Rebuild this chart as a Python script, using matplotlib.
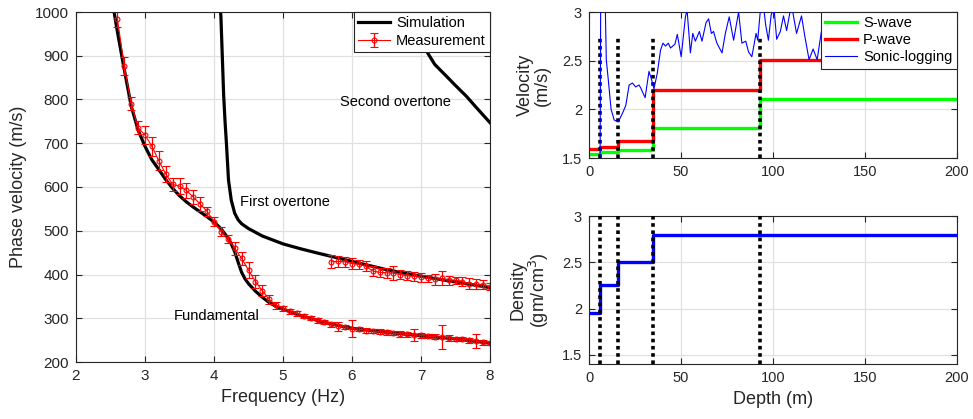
import matplotlib
matplotlib.use("Agg")
import matplotlib.pyplot as plt
from matplotlib.lines import Line2D

plt.rcParams['font.family'] = ['Liberation Sans', 'DejaVu Sans']

# ---------------- data: dispersion curves ----------------
sim_fund_f = [2.53, 2.6, 2.7, 2.8, 2.9, 3.0, 3.1, 3.2, 3.3, 3.4, 3.5, 3.6, 3.7, 3.8, 3.9, 4.0,
              4.1, 4.2, 4.25, 4.3, 4.35, 4.4, 4.45, 4.5, 4.6, 4.7, 4.8, 4.9, 5.0, 5.25, 5.5,
              5.75, 6.0, 6.5, 7.0, 7.5, 8.0]
sim_fund_v = [1020, 955, 868, 785, 730, 693, 662, 640, 617, 597, 580, 566, 554, 543, 532, 520,
              505, 484, 470, 452, 428, 405, 390, 379, 362, 348, 336, 327, 321, 306, 295,
              285, 277, 268, 260, 253, 243]

sim_o1_f = [4.08, 4.10, 4.12, 4.14, 4.16, 4.18, 4.21, 4.25, 4.3, 4.35, 4.4, 4.5, 4.7, 5.0,
            5.25, 5.5, 6.0, 6.5, 7.0, 7.5, 8.0]
sim_o1_v = [1030, 990, 900, 810, 750, 700, 616, 570, 540, 525, 516, 505, 488, 470,
            459, 449, 430, 411, 396, 383, 370]

sim_o2_f = [6.85, 6.95, 7.09, 7.2, 7.37, 7.5, 7.66, 7.8, 8.0]
sim_o2_v = [1010, 960, 908, 880, 853, 832, 807, 782, 747]

meas_fund_f = [2.6, 2.7, 2.8, 2.9, 3.0, 3.1, 3.2, 3.3, 3.4, 3.5, 3.6, 3.7, 3.8, 3.9, 4.0,
               4.1, 4.2, 4.3, 4.4, 4.5, 4.6, 4.7, 4.8, 4.9, 5.0, 5.1, 5.2, 5.3, 5.4, 5.5,
               5.6, 5.7, 5.8, 5.9, 6.0, 6.1, 6.2, 6.3, 6.4, 6.5, 6.6, 6.7, 6.8, 6.9, 7.0,
               7.1, 7.2, 7.3, 7.4, 7.5, 7.6, 7.7, 7.8, 7.9, 8.0]
meas_fund_v = [984, 876, 790, 735, 719, 693, 660, 630, 606, 602, 592, 577, 561, 544, 521,
               498, 481, 460, 437, 410, 384, 363, 343, 330, 323, 316, 311, 305, 300, 295,
               291, 286, 282, 280, 276, 275, 272, 271, 269, 268, 266, 264, 263, 262, 261,
               259, 258, 257, 255, 253, 252, 250, 248, 245, 243]
meas_fund_e = [19, 21, 15, 15, 20, 22, 22, 18, 15, 18, 18, 15, 15, 10, 10,
               10, 10, 15, 15, 18, 15, 12, 10, 8, 6, 6, 5, 5, 5, 5,
               5, 5, 10, 5, 19, 5, 5, 5, 6, 6, 5, 6, 5, 14, 5,
               5, 6, 27, 6, 5, 5, 6, 15, 5, 5]

meas_o1_f = [5.7, 5.8, 5.9, 6.0, 6.1, 6.2, 6.3, 6.4, 6.5, 6.6, 6.7, 6.8, 6.9, 7.0, 7.1,
             7.2, 7.3, 7.4, 7.5, 7.6, 7.7, 7.8, 7.9, 8.0]
meas_o1_v = [429, 430, 429, 425, 423, 419, 408, 405, 404, 403, 400, 397, 396, 394, 391,
             389, 391, 387, 387, 384, 379, 378, 377, 372]
meas_o1_e = [15, 12, 12, 12, 10, 12, 12, 10, 12, 16, 10, 10, 10, 10, 8,
             12, 16, 10, 8, 10, 12, 12, 10, 8]

# ---------------- data: layered model ----------------
layer_top = [0, 6, 16, 35, 93]
layer_bottom = [6, 16, 35, 93, 200]
vs_layers = [1.54, 1.56, 1.58, 1.805, 2.105]
vp_layers = [1.59, 1.61, 1.67, 2.20, 2.51]
rho_layers = [1.95, 2.25, 2.50, 2.80, 2.80]
boundaries = [6, 16, 35, 93]
boundary_top_vel = 2.73

sonic_depth = [6.0, 6.4, 7.5, 8.8, 9.4, 10.5, 12.0, 13.7, 15.9, 18.2, 20.0, 21.8, 23.6, 25.4,
               27.2, 28.1, 30.5, 32.6, 34.1, 35.3, 37.1, 38.9, 40.2, 41.6, 43.1, 44.3, 46.7,
               48.0, 50.1, 52.4, 53.3, 55.1, 56.4, 57.8, 60.0, 61.4, 63.6, 65.0, 66.5, 67.7,
               69.5, 72.3, 74.1, 76.2, 78.6, 81.3, 83.1, 85.2, 86.7, 88.5, 90.8, 91.7, 93.0,
               94.6, 96.0, 97.5, 99.0, 100.5, 102.0, 104.0, 105.7, 107.4, 110.0, 112.8, 115.5,
               117.3, 119.6, 121.8, 124.0, 126.3, 130.0]
sonic_vel = [1.3, 3.4, 3.5, 3.1, 2.51, 2.3, 2.0, 1.89, 1.87, 1.96, 2.04, 2.25, 2.27, 2.23,
             2.25, 2.22, 2.12, 2.39, 2.30, 2.21, 2.37, 2.61, 2.68, 2.65, 2.68, 2.63, 2.67,
             2.77, 2.54, 2.95, 3.02, 2.58, 2.78, 2.70, 2.80, 2.70, 2.89, 2.93, 2.78, 2.80,
             2.68, 2.58, 2.78, 2.95, 2.71, 3.0, 2.68, 2.70, 2.59, 2.54, 2.78, 2.71, 2.99,
             3.1, 2.87, 2.71, 2.97, 3.05, 2.72, 2.80, 2.96, 2.81, 3.08, 2.78, 2.96,
             2.75, 2.51, 2.62, 2.51, 2.80, 2.9]

# ---------------- styling helpers ----------------
AX_COL = (0.15, 0.15, 0.15)
GRID_COL = (0.88, 0.88, 0.88)
TICK_FS = 11
LABEL_FS = 13


def style_axes(ax, fs=TICK_FS):
    ax.grid(True, color=GRID_COL, lw=0.9)
    ax.set_axisbelow(True)
    ax.tick_params(direction='in', top=True, right=True, length=4, width=0.8,
                   colors=AX_COL, labelsize=fs, pad=5)
    for s in ax.spines.values():
        s.set_color(AX_COL)
        s.set_linewidth(0.8)


def step_xy(tops, bottoms, vals):
    xs, ys = [], []
    for t, b, v in zip(tops, bottoms, vals):
        xs += [t, b]
        ys += [v, v]
    return xs, ys


W, H = 973, 419
fig = plt.figure(figsize=(W / 100, H / 100), dpi=100)

# ---------------- left panel ----------------
ax1 = fig.add_axes([76 / W, (H - 362) / H, (490 - 76) / W, (362 - 12) / H])
style_axes(ax1)
l_sim, = ax1.plot(sim_fund_f, sim_fund_v, color='black', lw=2.3)
ax1.plot(sim_o1_f, sim_o1_v, color='black', lw=2.3)
ax1.plot(sim_o2_f, sim_o2_v, color='black', lw=2.3)
eb = ax1.errorbar(meas_fund_f, meas_fund_v, yerr=meas_fund_e, color='red', marker='o', ms=3.5,
                  mfc='none', mew=0.8, lw=0.8, elinewidth=0.9, capsize=3, capthick=0.9)
ax1.errorbar(meas_o1_f, meas_o1_v, yerr=meas_o1_e, color='red', marker='o', ms=3.5,
             mfc='none', mew=0.8, lw=0.8, elinewidth=0.9, capsize=3, capthick=0.9)
ax1.set_xlim(2, 8)
ax1.set_ylim(200, 1000)
ax1.set_xticks([2, 3, 4, 5, 6, 7, 8])
ax1.set_yticks(list(range(200, 1001, 100)))
ax1.set_xlabel('Frequency (Hz)', fontsize=LABEL_FS, color=AX_COL, labelpad=4)
ax1.set_ylabel('Phase velocity (m/s)', fontsize=LABEL_FS, color=AX_COL, labelpad=6)
ax1.text(5.83, 795, 'Second overtone', fontsize=10.5, va='center', ha='left')
ax1.text(4.38, 566, 'First overtone', fontsize=10.5, va='center', ha='left')
ax1.text(3.41, 305, 'Fundamental', fontsize=10.5, va='center', ha='left')
leg1 = ax1.legend([l_sim, eb], ['Simulation', 'Measurement'], loc='upper right',
                  fontsize=10.5, borderaxespad=0, fancybox=False, framealpha=1,
                  edgecolor=AX_COL, handlelength=2.2, borderpad=0.3, labelspacing=0.25,
                  handletextpad=0.4)
leg1.get_frame().set_linewidth(0.8)

# ---------------- right top panel ----------------
ax2 = fig.add_axes([589 / W, (H - 158) / H, (957 - 589) / W, (158 - 12) / H])
style_axes(ax2, 10.5)
for b in boundaries:
    ax2.plot([b, b], [1.5, boundary_top_vel], color='black', lw=2.6, ls=(0, (1, 1)), zorder=3)
xs, ys = step_xy(layer_top, layer_bottom, vs_layers)
l_s, = ax2.plot(xs, ys, color=(0, 1, 0), lw=2.4, zorder=2)
xs, ys = step_xy(layer_top, layer_bottom, vp_layers)
l_p, = ax2.plot(xs, ys, color=(1, 0, 0), lw=2.4, zorder=2)
l_sonic, = ax2.plot(sonic_depth, sonic_vel, color=(0, 0, 1), lw=0.8, zorder=4)
ax2.set_xlim(0, 200)
ax2.set_ylim(1.5, 3)
ax2.set_xticks([0, 50, 100, 150, 200])
ax2.set_yticks([1.5, 2, 2.5, 3])
ax2.set_yticklabels(['1.5', '2', '2.5', '3'])
ax2.set_ylabel('Velocity\n(m/s)', fontsize=LABEL_FS, color=AX_COL, labelpad=8, linespacing=1.0)
leg2 = ax2.legend([l_s, l_p, l_sonic], ['S-wave', 'P-wave', 'Sonic-logging'], loc='upper right',
                  fontsize=10.5, borderaxespad=0, fancybox=False, framealpha=1,
                  edgecolor=AX_COL, handlelength=2.2, borderpad=0.3, labelspacing=0.2,
                  handletextpad=0.4)
leg2.get_frame().set_linewidth(0.8)
leg2.set_zorder(10)

# ---------------- right bottom panel ----------------
ax3 = fig.add_axes([589 / W, (H - 364) / H, (957 - 589) / W, (364 - 216) / H])
style_axes(ax3, 10.5)
for b in boundaries:
    ax3.plot([b, b], [1.4, 3], color='black', lw=2.6, ls=(0, (1, 1)), zorder=3)
xs, ys = step_xy(layer_top, layer_bottom, rho_layers)
ax3.plot(xs, ys, color=(0, 0, 1), lw=2.4, zorder=2)
ax3.set_xlim(0, 200)
ax3.set_ylim(1.4, 3)
ax3.set_xticks([0, 50, 100, 150, 200])
ax3.set_yticks([1.5, 2, 2.5, 3])
ax3.set_yticklabels(['1.5', '2', '2.5', '3'])
ax3.set_xlabel('Depth (m)', fontsize=LABEL_FS, color=AX_COL, labelpad=4)
ax3.set_ylabel('Density\n(gm/cm$^3$)', fontsize=LABEL_FS, color=AX_COL, labelpad=8,
               linespacing=1.0)

fig.savefig('out.png', dpi=100)
